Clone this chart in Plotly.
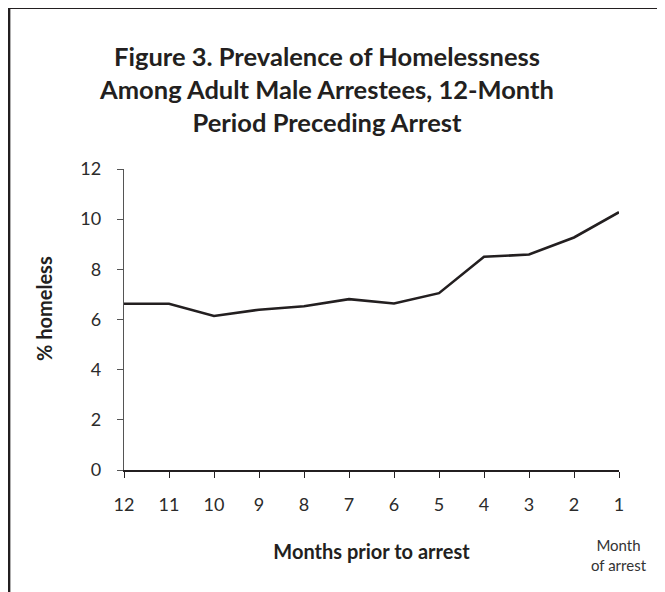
import plotly.graph_objects as go

months = [12, 11, 10, 9, 8, 7, 6, 5, 4, 3, 2, 1]
pct_homeless = [6.63, 6.63, 6.14, 6.39, 6.53, 6.81, 6.64, 7.05, 8.50, 8.59, 9.27, 10.28]
y_ticks = [0, 2, 4, 6, 8, 10, 12]

title_text = ("Figure 3. Prevalence of Homelessness<br>"
              "Among Adult Male Arrestees, 12-Month<br>"
              "Period Preceding Arrest")

INK = "#231f20"
FONT = "Lato"

# the page body adds an 8px margin; build the figure 8px smaller and
# place everything in page coordinates minus that offset
OFF = 8
W, H = 665 - OFF, 592 - OFF

# plot-area edges in page coordinates
PX0, PX1, PY0, PY1 = 124.3, 618.7, 168.5, 469.7
L = PX0 - OFF
R = W - (PX1 - OFF)
T = PY0 - OFF
B = H - (PY1 - OFF)
pw, ph = W - L - R, H - T - B


def px_x(page_x):
    return (page_x - OFF - L) / pw


def px_y(page_y):
    return (H - B - (page_y - OFF)) / ph


fig = go.Figure()
fig.add_trace(go.Scatter(
    x=months, y=pct_homeless, mode="lines",
    line=dict(color=INK, width=2.6), showlegend=False, hoverinfo="x+y",
))

fig.update_layout(
    width=W, height=H,
    margin=dict(l=L, r=R, t=T, b=B, autoexpand=False),
    paper_bgcolor="white", plot_bgcolor="white",
    font=dict(family=FONT, color=INK),
    title=dict(text=title_text, x=(327 - OFF) / W, xanchor="center", xref="container",
               y=1 - 58 / H, yanchor="top", yref="container",
               font=dict(family=FONT, size=25.5, color=INK, weight="bold")),
    xaxis=dict(
        range=[12, 1], tickvals=months, ticktext=[str(m) for m in months],
        showgrid=False, zeroline=False, showline=True, linecolor=INK, linewidth=1.6,
        ticks="outside", ticklen=6, tickwidth=1.3, tickcolor=INK,
        ticklabelstandoff=12,
        tickfont=dict(family=FONT, size=18, color="#2b2b2b"),
        title=dict(text="Months prior to arrest", standoff=31,
                   font=dict(family=FONT, size=20, color=INK, weight="bold")),
    ),
    yaxis=dict(
        range=[0, 12], tickvals=y_ticks,
        showgrid=False, zeroline=False, showline=True, linecolor="#555555", linewidth=1.4,
        ticks="outside", ticklen=6, tickwidth=1.3, tickcolor="#555555",
        ticklabelstandoff=12,
        tickfont=dict(family=FONT, size=18, color="#2b2b2b"),
    ),
)

# y-axis title
fig.add_annotation(
    text="% homeless", textangle=-90, showarrow=False,
    xref="paper", yref="paper",
    x=px_x(45), y=px_y(308), xanchor="center", yanchor="middle",
    font=dict(family=FONT, size=20, color=INK, weight="bold"),
)

# "Month of arrest" note under the last tick
fig.add_annotation(
    text="Month<br>of arrest", showarrow=False,
    xref="x", yref="paper", x=1, y=px_y(554.5),
    xanchor="center", yanchor="middle",
    font=dict(family=FONT, size=15, color="#333333"),
)

# frame (left and top edges)
fx0 = px_x(9.5)
fy1 = px_y(7)
fig.add_shape(type="line", xref="paper", yref="paper", x0=fx0, x1=fx0, y0=-0.6, y1=fy1,
              line=dict(color=INK, width=2.6))
fig.add_shape(type="line", xref="paper", yref="paper", x0=fx0, x1=1.3, y0=fy1, y1=fy1,
              line=dict(color=INK, width=2.6))

fig.write_html("out.html")
